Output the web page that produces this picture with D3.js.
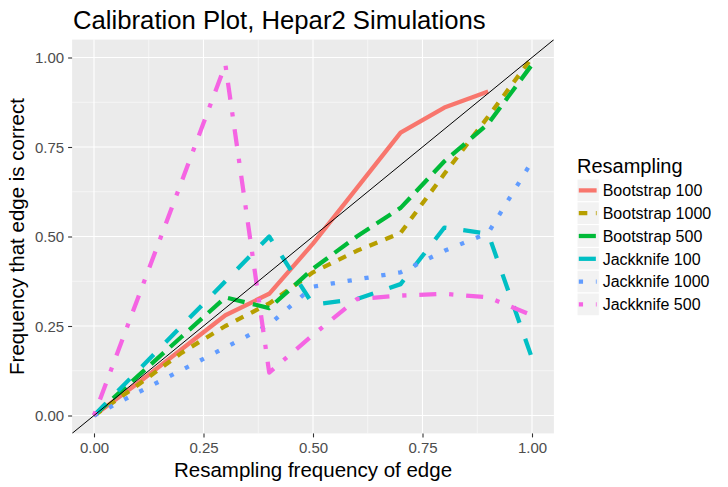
<!DOCTYPE html>
<html><head><meta charset="utf-8">
<script src="https://cdn.jsdelivr.net/npm/d3@7"></script>
<style>body{margin:0;background:#fff}svg{display:block;font-family:"Liberation Sans",Arial,sans-serif}</style>
</head><body>
<svg id="chart" width="728" height="487"></svg>
<script>
const titleText = "Calibration Plot, Hepar2 Simulations";
const xTitle = "Resampling frequency of edge";
const yTitle = "Frequency that edge is correct";
const legendTitle = "Resampling";
const seriesNames = ["Bootstrap 100","Bootstrap 1000","Bootstrap 500","Jackknife 100","Jackknife 1000","Jackknife 500"];
const seriesColors = ["#F8766D","#B79F00","#00BA38","#00BFC4","#619CFF","#F564E3"];
const seriesDash = ["solid","22","42","44","13","1343"];
const xBins = [0,0.1,0.2,0.3,0.4,0.5,0.6,0.7,0.8,0.9,1.0];
const bootstrap100  = [0,0.09,0.185,0.28,0.34,0.48,0.635,0.79,0.86,0.905];
const bootstrap1000 = [0,0.085,0.175,0.25,0.313,0.40,0.46,0.51,0.675,0.835,1.0];
const bootstrap500  = [0,0.11,0.22,0.33,0.30,0.41,0.50,0.58,0.71,0.815,0.98];
const jackknife100  = [0,0.125,0.25,0.375,0.50,0.31,0.325,0.367,0.525,0.508,0.16];
const jackknife1000 = [0,0.064,0.127,0.19,0.254,0.36,0.38,0.40,0.46,0.51,0.71];
const jackknife500  = [0,0.327,0.653,0.98,0.12,0.225,0.325,0.335,0.34,0.33,0.28];
const seriesValues = [bootstrap100,bootstrap1000,bootstrap500,jackknife100,jackknife1000,jackknife500];
const tickValues = [0,0.25,0.5,0.75,1.0];
const minorValues = [0.125,0.375,0.625,0.875];

const svg = d3.select("#chart");
svg.append("rect").attr("width",728).attr("height",487).attr("fill","#fff");
const P = {l:72.1, r:553.9, t:39.6, b:433.4};
const x = d3.scaleLinear().domain([-0.05,1.05]).range([P.l,P.r]);
const y = d3.scaleLinear().domain([-0.05,1.05]).range([P.b,P.t]);

svg.append("rect").attr("x",P.l).attr("y",P.t).attr("width",P.r-P.l).attr("height",P.b-P.t).attr("fill","#EBEBEB");
const grid = svg.append("g");
minorValues.forEach(v=>{
  grid.append("line").attr("x1",x(v)).attr("x2",x(v)).attr("y1",P.t).attr("y2",P.b).attr("stroke","#fff").attr("stroke-width",0.55);
  grid.append("line").attr("y1",y(v)).attr("y2",y(v)).attr("x1",P.l).attr("x2",P.r).attr("stroke","#fff").attr("stroke-width",0.55);
});
tickValues.forEach(v=>{
  grid.append("line").attr("x1",x(v)).attr("x2",x(v)).attr("y1",P.t).attr("y2",P.b).attr("stroke","#fff").attr("stroke-width",1.1);
  grid.append("line").attr("y1",y(v)).attr("y2",y(v)).attr("x1",P.l).attr("x2",P.r).attr("stroke","#fff").attr("stroke-width",1.1);
});

svg.append("clipPath").attr("id","clip").append("rect").attr("x",P.l).attr("y",P.t).attr("width",P.r-P.l).attr("height",P.b-P.t);
const lw = 4.27;
const dashOf = d => d==="solid" ? null : d.split("").map(c=>(+c)*lw).join(",");
const lineGen = d3.line().x(d=>x(d[0])).y(d=>y(d[1]));
const plot = svg.append("g").attr("clip-path","url(#clip)");
seriesValues.forEach((vals,i)=>{
  const pts = vals.map((v,j)=>[xBins[j],v]);
  plot.append("path").attr("d",lineGen(pts)).attr("fill","none")
    .attr("stroke",seriesColors[i]).attr("stroke-width",lw)
    .attr("stroke-dasharray",dashOf(seriesDash[i])).attr("stroke-linecap","butt").attr("stroke-linejoin","round");
});
plot.append("line").attr("x1",x(-0.05)).attr("y1",y(-0.05)).attr("x2",x(1.05)).attr("y2",y(1.05)).attr("stroke","#000").attr("stroke-width",1);

// axes
const xAxis = d3.axisBottom(x).tickValues(tickValues).tickFormat(d3.format(".2f")).tickSizeOuter(0).tickSize(4).tickPadding(4);
const yAxis = d3.axisLeft(y).tickValues(tickValues).tickFormat(d3.format(".2f")).tickSizeOuter(0).tickSize(4).tickPadding(4);
const gx = svg.append("g").attr("transform",`translate(0,${P.b})`).call(xAxis);
const gy = svg.append("g").attr("transform",`translate(${P.l},0)`).call(yAxis);
[gx,gy].forEach(g=>{
  g.select(".domain").remove();
  g.selectAll(".tick line").attr("stroke","#333333").attr("stroke-width",1.1);
  g.selectAll(".tick text").attr("fill","#4D4D4D").attr("font-size","15px").attr("font-family","Liberation Sans, Arial, sans-serif");
});
gx.selectAll(".tick text").attr("dy",null).attr("y",20);
gy.selectAll(".tick text").attr("x",-8).attr("dy","0.36em");

svg.append("text").attr("x",73).attr("y",28.5).attr("font-size","25.7px").attr("fill","#000").text(titleText);
svg.append("text").attr("x",(P.l+P.r)/2).attr("y",477).attr("text-anchor","middle").attr("font-size","20.5px").attr("fill","#000").text(xTitle);
svg.append("text").attr("transform",`translate(23.5,${(P.t+P.b)/2}) rotate(-90)`).attr("text-anchor","middle").attr("font-size","20.5px").attr("fill","#000").text(yTitle);

// legend
const lg = svg.append("g");
lg.append("text").attr("x",577).attr("y",173).attr("font-size","20px").attr("fill","#000").text(legendTitle);
const keyX = 577, keyY = 179, keyW = 22.3, keyH = 22.8;
seriesNames.forEach((name,i)=>{
  const ky = keyY + i*keyH;
  lg.append("rect").attr("x",keyX).attr("y",ky).attr("width",keyW).attr("height",keyH).attr("fill","#F2F2F2").attr("stroke","#fff").attr("stroke-width",1);
  lg.append("line").attr("x1",keyX+keyW*0.08).attr("x2",keyX+keyW*0.88).attr("y1",ky+keyH/2).attr("y2",ky+keyH/2)
    .attr("stroke",seriesColors[i]).attr("stroke-width",lw).attr("stroke-dasharray",dashOf(seriesDash[i]));
  lg.append("text").attr("x",602.7).attr("y",ky+keyH/2).attr("dy","0.36em").attr("font-size","16px").attr("fill","#000").text(name);
});
</script>
</body></html>
